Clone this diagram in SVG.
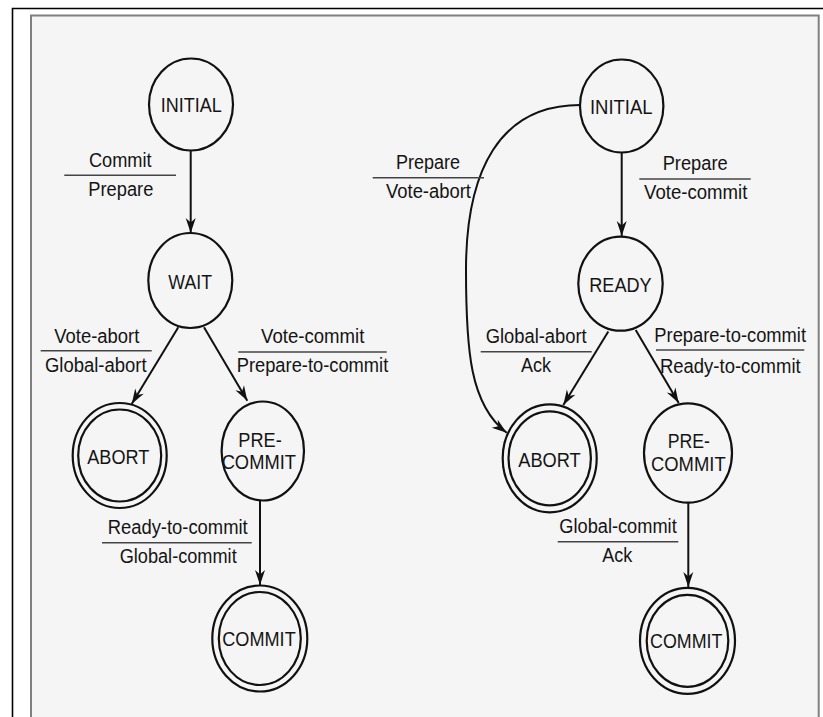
<svg xmlns="http://www.w3.org/2000/svg" width="823" height="717" viewBox="0 0 823 717">
  <style>
    text { font-family: "Liberation Sans", Arial, sans-serif; fill: #141414; }
    .state { font-size: 20.5px; text-anchor: middle; }
    .lbl { font-size: 20px; text-anchor: middle; }
    .ring { fill: none; stroke: #111; stroke-width: 2.2; }
    .bar { stroke: #444; stroke-width: 1.4; }
    .edge { fill: none; stroke: #111; stroke-width: 2; marker-end: url(#arrow); }
  </style>
  <defs>
    <marker id="arrow" viewBox="-16 -6 17 12" refX="0" refY="0" markerWidth="17" markerHeight="12" markerUnits="userSpaceOnUse" orient="auto">
      <path d="M0,0 L-15,-5 L-10.5,0 L-15,5 Z" fill="#111"/>
    </marker>
  </defs>

  <!-- page frame -->
  <rect x="0" y="0" width="823" height="717" fill="#ffffff"/>
  <path d="M12.5,717 V8.5 H823" fill="none" stroke="#000" stroke-width="1.6"/>
  <path d="M31,717 V15.5 H818.7 V717" fill="#f5f5f5" stroke="#808080" stroke-width="2"/>

  <!-- transitions -->
  <g id="connectors">
    <path class="edge" d="M190.7,150.5 V233"/>
    <path class="edge" d="M178.3,327.3 L131.7,404"/>
    <path class="edge" d="M204,327.3 L247.3,400.7"/>
    <path class="edge" d="M260,500.5 V585"/>
    <path class="edge" d="M621.7,152.5 V236"/>
    <path class="edge" d="M608.3,331.5 L563.3,405"/>
    <path class="edge" d="M635.7,330 L678.7,403"/>
    <path class="edge" d="M688.3,502.7 V587"/>
    <path class="edge" d="M580,105 C500,105 466,170 466,270 C466,350 470,405 506.7,432.7"/>
  </g>

  <!-- transition labels: input over output -->
  <g id="labels">
    <text class="lbl" x="120.3" y="167.3" textLength="62.7" lengthAdjust="spacingAndGlyphs">Commit</text>
    <line class="bar" x1="64.3" y1="175.3" x2="176" y2="175.3"/>
    <text class="lbl" x="120.8" y="196" textLength="65" lengthAdjust="spacingAndGlyphs">Prepare</text>

    <text class="lbl" x="96.8" y="343.3" textLength="85" lengthAdjust="spacingAndGlyphs">Vote-abort</text>
    <line class="bar" x1="40.7" y1="350.7" x2="151.7" y2="350.7"/>
    <text class="lbl" x="95.8" y="371.5" textLength="101.7" lengthAdjust="spacingAndGlyphs">Global-abort</text>

    <text class="lbl" x="312.7" y="343.3" textLength="103.3" lengthAdjust="spacingAndGlyphs">Vote-commit</text>
    <line class="bar" x1="238.3" y1="352" x2="386.7" y2="352"/>
    <text class="lbl" x="312.5" y="371.5" textLength="151.6" lengthAdjust="spacingAndGlyphs">Prepare-to-commit</text>

    <text class="lbl" x="177.7" y="534.3" textLength="140" lengthAdjust="spacingAndGlyphs">Ready-to-commit</text>
    <line class="bar" x1="102" y1="542.7" x2="251.7" y2="542.7"/>
    <text class="lbl" x="178.2" y="563.3" textLength="117" lengthAdjust="spacingAndGlyphs">Global-commit</text>

    <text class="lbl" x="428" y="169.3" textLength="64" lengthAdjust="spacingAndGlyphs">Prepare</text>
    <line class="bar" x1="372.7" y1="177.7" x2="484" y2="177.7"/>
    <text class="lbl" x="428.5" y="198.3" textLength="85" lengthAdjust="spacingAndGlyphs">Vote-abort</text>

    <text class="lbl" x="695.2" y="170" textLength="65" lengthAdjust="spacingAndGlyphs">Prepare</text>
    <line class="bar" x1="639.3" y1="179" x2="750.7" y2="179"/>
    <text class="lbl" x="695.7" y="199.3" textLength="103.3" lengthAdjust="spacingAndGlyphs">Vote-commit</text>

    <text class="lbl" x="536.2" y="343.3" textLength="101" lengthAdjust="spacingAndGlyphs">Global-abort</text>
    <line class="bar" x1="480.7" y1="351.7" x2="591.7" y2="351.7"/>
    <text class="lbl" x="536" y="371.7" textLength="30" lengthAdjust="spacingAndGlyphs">Ack</text>

    <text class="lbl" x="730.2" y="341.7" textLength="151.7" lengthAdjust="spacingAndGlyphs">Prepare-to-commit</text>
    <line class="bar" x1="656" y1="350" x2="804.3" y2="350"/>
    <text class="lbl" x="730.3" y="372.7" textLength="140.7" lengthAdjust="spacingAndGlyphs">Ready-to-commit</text>

    <text class="lbl" x="618" y="533.3" textLength="117.4" lengthAdjust="spacingAndGlyphs">Global-commit</text>
    <line class="bar" x1="557.7" y1="541.7" x2="678.3" y2="541.7"/>
    <text class="lbl" x="617.3" y="561.7" textLength="30" lengthAdjust="spacingAndGlyphs">Ack</text>
  </g>

  <!-- coordinator states -->
  <g id="c-initial">
    <ellipse class="ring" cx="191" cy="104.5" rx="42" ry="46"/>
    <text class="state" x="191.2" y="111.7" textLength="61" lengthAdjust="spacingAndGlyphs">INITIAL</text>
  </g>
  <g id="c-wait">
    <ellipse class="ring" cx="190.3" cy="280.5" rx="42" ry="47.5"/>
    <text class="state" x="190.2" y="289.3" textLength="43.7" lengthAdjust="spacingAndGlyphs">WAIT</text>
  </g>
  <g id="c-abort">
    <ellipse class="ring" cx="119.7" cy="455.5" rx="47" ry="52.5"/>
    <ellipse class="ring" cx="119.7" cy="455.5" rx="41.5" ry="46"/>
    <text class="state" x="118.3" y="464.3" textLength="62" lengthAdjust="spacingAndGlyphs">ABORT</text>
  </g>
  <g id="c-precommit">
    <ellipse class="ring" cx="262.8" cy="451" rx="41.2" ry="49.5"/>
    <text class="state" x="260" y="446.7" textLength="43.4" lengthAdjust="spacingAndGlyphs">PRE-</text>
    <text class="state" x="258.8" y="468.7" textLength="74.3" lengthAdjust="spacingAndGlyphs">COMMIT</text>
  </g>
  <g id="c-commit">
    <ellipse class="ring" cx="259.8" cy="638.5" rx="47.5" ry="53"/>
    <ellipse class="ring" cx="259.8" cy="638.5" rx="41" ry="46.5"/>
    <text class="state" x="259" y="646" textLength="73.4" lengthAdjust="spacingAndGlyphs">COMMIT</text>
  </g>

  <!-- participant states -->
  <g id="p-initial">
    <ellipse class="ring" cx="621.7" cy="106" rx="41.7" ry="46.5"/>
    <text class="state" x="621.3" y="114" textLength="62.7" lengthAdjust="spacingAndGlyphs">INITIAL</text>
  </g>
  <g id="p-ready">
    <ellipse class="ring" cx="620.5" cy="283.7" rx="42.2" ry="47"/>
    <text class="state" x="620.5" y="291.7" textLength="62.4" lengthAdjust="spacingAndGlyphs">READY</text>
  </g>
  <g id="p-abort">
    <ellipse class="ring" cx="549.7" cy="458.3" rx="47" ry="54"/>
    <ellipse class="ring" cx="549.7" cy="458.3" rx="41.2" ry="47"/>
    <text class="state" x="549.5" y="466.7" textLength="62.4" lengthAdjust="spacingAndGlyphs">ABORT</text>
  </g>
  <g id="p-precommit">
    <ellipse class="ring" cx="688" cy="453" rx="44" ry="49.7"/>
    <text class="state" x="688.8" y="448.3" textLength="42.3" lengthAdjust="spacingAndGlyphs">PRE-</text>
    <text class="state" x="688.3" y="470.7" textLength="74.7" lengthAdjust="spacingAndGlyphs">COMMIT</text>
  </g>
  <g id="p-commit">
    <ellipse class="ring" cx="687.5" cy="640.8" rx="47.5" ry="53"/>
    <ellipse class="ring" cx="687.5" cy="640.8" rx="40.8" ry="46"/>
    <text class="state" x="686.2" y="647.7" textLength="72.3" lengthAdjust="spacingAndGlyphs">COMMIT</text>
  </g>
</svg>
